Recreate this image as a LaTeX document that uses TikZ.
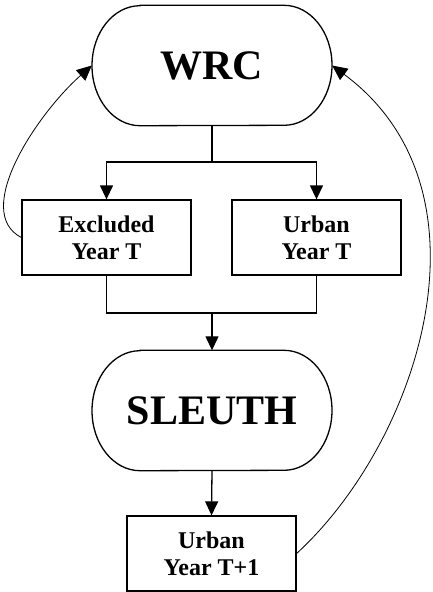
\documentclass[tikz,border=0pt]{standalone}
\usepackage{fontspec}
\setmainfont{Liberation Serif}
\usetikzlibrary{arrows.meta}
\begin{document}
\begin{tikzpicture}[x=1pt,y=-1pt,
  box/.style={draw, line width=1.3pt, minimum width=169pt, minimum height=75pt, inner sep=0pt, align=center, font=\fontsize{24}{27}\selectfont\bfseries},
  term/.style={minimum width=240pt, minimum height=120pt, inner sep=0pt, font=\fontsize{42}{45}\selectfont\bfseries},
  outline/.style={line width=1.3pt},
  plain/.style={line width=1.3pt},
  conn/.style={line width=1.3pt, -{Triangle[length=14pt,width=13pt]}},
  loop/.style={line width=0.8pt, -{Triangle[length=15pt,width=14pt]}}]
\useasboundingbox (0,0) rectangle (432,592);
% terminals
\node[term] (wrc) at (212,65.5) {WRC};
\draw[outline] ([xshift=-72pt]wrc.north) -- ([xshift=72pt]wrc.north)
  arc[start angle=90,end angle=-90,x radius=48pt,y radius=60pt]
  -- ([xshift=-72pt]wrc.south)
  arc[start angle=270,end angle=90,x radius=48pt,y radius=60pt] -- cycle;
\node[term] (sl) at (212,410.5) {SLEUTH};
\draw[outline] ([xshift=-72pt]sl.north) -- ([xshift=72pt]sl.north)
  arc[start angle=90,end angle=-90,x radius=48pt,y radius=60pt]
  -- ([xshift=-72pt]sl.south)
  arc[start angle=270,end angle=90,x radius=48pt,y radius=60pt] -- cycle;
% boxes
\node[box] (ex) at (106.5,237.5) {Excluded\\Year T};
\node[box] (ur) at (316.5,237.5) {Urban\\Year T};
\node[box] (u1) at (211.5,553.5) {Urban\\Year T+1};
% connectors
\coordinate (j1) at (212,162);
\coordinate (j2) at (212,313);
\draw[plain] (wrc.south) -- (j1);
\draw[conn] (j1) -| (ex.north);
\draw[conn] (j1) -| (ur.north);
\draw[plain] (ex.south) |- (j2);
\draw[plain] (ur.south) |- (j2);
\draw[conn] (j2) -- (sl.north);
\draw[conn] (sl.south) -- (u1.north);
% feedback loops
\draw[loop] (ex.west) .. controls (-28,212) and (36,115) .. (wrc.west);
\draw[loop] (u1.east) .. controls (420,440) and (500,190) .. (wrc.east);
\end{tikzpicture}
\end{document}
